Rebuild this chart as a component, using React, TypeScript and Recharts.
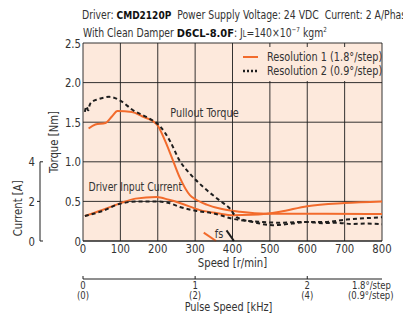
import { CartesianGrid, Legend, Line, LineChart, ReferenceDot, XAxis, YAxis } from 'recharts';

const ORANGE = '#f26b2c';
const DARK = '#1e1e1e';
const TEXT = '#333';
const PEACH = '#fde9dc';
const FONT = '"DejaVu Sans Condensed", "DejaVu Sans", sans-serif';
const SX = 0.9; // squeeze DejaVu Condensed towards the narrow Helvetica of the original

const W = 403;
const H = 325;
const MARGIN = { top: 43, right: 21, bottom: 0, left: 0 };
const SPEED_AXIS_H = 38;
const PULSE_AXIS_H = 46;
const PLOT_H = H - MARGIN.top - MARGIN.bottom - SPEED_AXIS_H - PULSE_AXIS_H;

// axis ids: recharts stacks same-side axes by id, so 'a_' sits next to the plot
const SPEED = 'a_speed';
const PULSE = 'b_pulse';
const TORQUE = 'a_torque';
const CUR = 'b_cur';

// axes
const speedTicks = [0, 100, 200, 300, 400, 500, 600, 700, 800];
const torqueTicks = [0, 0.5, 1.0, 1.5, 2.0, 2.5];
const currentTicks = [0, 2, 4];
const CURRENT_MAX = 10; // 4 A lines up with 1.0 Nm
const PULSE_MAX = 800 / 300; // 1.8°/step: 1 kHz = 300 r/min
const pulseTicks = [0, 1, 2, PULSE_MAX];
const pulseTop = ['0', '1', '2', '1.8°/step'];
const pulseBottom = ['(0)', '(2)', '(4)', '(0.9°/step)'];

// Resolution 1 (1.8°/step)
const res1TorqueSpeed = [15, 33, 60, 78, 92, 131, 158, 198, 220, 238, 259, 286, 300, 331, 366, 420, 490, 560, 650, 800];
const res1Torque = [1.42, 1.47, 1.49, 1.575, 1.64, 1.63, 1.575, 1.47, 1.26, 1.05, 0.8, 0.58, 0.53, 0.46, 0.41, 0.37, 0.345, 0.345, 0.345, 0.34];
const res1CurrentSpeed = [5, 50, 99, 140, 197, 230, 259, 313, 360, 401, 450, 490, 527, 600, 700, 800];
const res1Current = [1.26, 1.55, 1.9, 2.14, 2.22, 2.08, 1.92, 1.56, 1.4, 1.3, 1.32, 1.38, 1.48, 1.76, 1.92, 2.0];

// Resolution 2 (0.9°/step)
const res2TorqueSpeed = [5, 9, 14, 18, 25, 40, 55, 70, 104, 131, 176, 206, 233, 259, 286, 322, 366, 393, 411, 455, 508, 560, 600, 640, 680, 720, 760, 800];
const res2Torque = [1.63, 1.7, 1.65, 1.72, 1.76, 1.79, 1.81, 1.82, 1.76, 1.66, 1.55, 1.45, 1.26, 1.01, 0.85, 0.68, 0.51, 0.41, 0.3, 0.24, 0.2, 0.22, 0.24, 0.225, 0.23, 0.215, 0.22, 0.21];
const res2CurrentSpeed = [5, 50, 99, 150, 197, 230, 259, 304, 348, 401, 481, 527, 580, 642, 705, 800];
const res2Current = [1.26, 1.5, 1.88, 2.0, 2.0, 1.92, 1.72, 1.52, 1.4, 1.12, 0.96, 0.92, 0.96, 0.96, 1.08, 1.2];

// starting frequency (fs) markers
const fs1Speed = [323, 356];
const fs1Torque = [0.105, 0];
const fs2Speed = [384, 404];
const fs2Torque = [0.135, 0];

const legendNames = ['Resolution 1 (1.8°/step)', 'Resolution 2 (0.9°/step)'];

const zip = (xs: number[], ys: number[]) => xs.map((x, i) => ({ speed: x, v: ys[i] }));
// empty rows so the pulse axis has a domain of its own
const pulseRows = pulseTicks.map((k) => ({ kHz: k, v: null }));

function NText({ x, y, children, anchor = 'middle', size = 12, rotate = 0, baseline }: any) {
  return (
    <text
      transform={`translate(${x},${y})${rotate ? ` rotate(${rotate})` : ''} scale(${SX},1)`}
      textAnchor={anchor}
      dominantBaseline={baseline}
      fontSize={size}
      fontFamily={FONT}
      fill={TEXT}
    >
      {children}
    </text>
  );
}

function SpeedTick({ x, y, payload }: any) {
  return <NText x={x} y={y + 12} size={12.5}>{payload.value}</NText>;
}

function TorqueTick({ x, y, payload }: any) {
  const v = payload.value;
  return (
    <NText x={x} y={y + 4.5} anchor="end" size={12.5}>
      {v === 0 ? '0' : v.toFixed(1)}
    </NText>
  );
}

function CurrentTick({ x, y, payload }: any) {
  const v = payload.value;
  const step = (PLOT_H * 2) / CURRENT_MAX;
  return (
    <g>
      {v > 0 && <line x1={x} x2={x} y1={y} y2={y + step} stroke={DARK} />}
      {v === 2 ? <line x1={x - 3} x2={x} y1={y} y2={y} stroke={DARK} /> : <line x1={x} x2={x + 3} y1={y} y2={y} stroke={DARK} />}
      <NText x={x - 5} y={y + 4.5} anchor="end" size={12.5}>
        {v}
      </NText>
    </g>
  );
}

function PulseTick({ x, y, payload }: any) {
  const i = pulseTicks.indexOf(payload.value);
  const isEnd = i === pulseTicks.length - 1;
  return (
    <g>
      {!isEnd && <line x1={x} x2={x} y1={y - 3} y2={y} stroke={DARK} />}
      <NText x={isEnd ? x - 30 : x} y={y + 10} anchor={isEnd ? 'start' : 'middle'} size={10.5}>
        {pulseTop[i]}
      </NText>
      <NText x={isEnd ? x - 34 : x} y={y + 20} anchor={isEnd ? 'start' : 'middle'} size={10.5}>
        {pulseBottom[i]}
      </NText>
    </g>
  );
}

function LegendBox({ payload }: any) {
  const items = (payload || []).filter((e: any) => legendNames.includes(e.value));
  return (
    <div style={{ background: PEACH, padding: '3px 0 3px 2px', fontFamily: FONT, fontSize: 12, color: TEXT, lineHeight: '14px', whiteSpace: 'nowrap' }}>
      {items.map((entry: any) => {
        const dotted = entry.value === legendNames[1];
        return (
          <div key={entry.value} style={{ display: 'flex', alignItems: 'center', height: 14 }}>
            <svg width={25} height={14} style={{ flex: 'none' }}>
              <line x1={1} x2={16} y1={7} y2={7} stroke={dotted ? DARK : ORANGE} strokeWidth={dotted ? 2.5 : 2} strokeDasharray={dotted ? '2 2' : undefined} />
            </svg>
            <span style={{ display: 'inline-block', transform: `scaleX(${SX})`, transformOrigin: 'left center' }}>{entry.value}</span>
          </div>
        );
      })}
    </div>
  );
}

const headStyle = {
  position: 'absolute' as const,
  whiteSpace: 'nowrap' as const,
  fontFamily: FONT,
  fontSize: 11.5,
  color: TEXT,
  lineHeight: '14px',
  transform: `scaleX(${SX})`,
  transformOrigin: 'left top',
};

const lineProps = { dot: false, activeDot: false, isAnimationActive: false, strokeWidth: 2 } as const;

export default function App() {
  return (
    <div style={{ position: 'absolute', left: 0, top: 0, width: W, height: H, background: '#fff', overflow: 'hidden' }}>
      <div style={{ ...headStyle, left: 82, top: 8 }}>
        Driver: <b style={{ fontFamily: '"DejaVu Sans", sans-serif', fontSize: 10, color: '#111' }}>CMD2120P</b>&nbsp; Power Supply Voltage: 24 VDC&nbsp; Current: 2 A/Phase
      </div>
      <div style={{ ...headStyle, left: 83, top: 23 }}>
        With Clean Damper <b style={{ fontFamily: '"DejaVu Sans", sans-serif', fontSize: 11, color: '#111' }}>D6CL-8.0F</b>: J<span style={{ fontSize: 8 }}>L</span>=140×10<sup style={{ fontSize: 7 }}>−7</sup> kgm<sup style={{ fontSize: 7 }}>2</sup>
      </div>
      <LineChart width={W} height={H} margin={MARGIN} style={{ position: 'absolute', left: 0, top: 0 }}>
        <CartesianGrid xAxisId={SPEED} yAxisId={TORQUE} fill={PEACH} fillOpacity={1} stroke={DARK} strokeOpacity={0.9} />
        <XAxis
          xAxisId={SPEED}
          type="number"
          dataKey="speed"
          domain={[0, 800]}
          ticks={speedTicks}
          interval={0}
          height={SPEED_AXIS_H}
          tickSize={0}
          tickMargin={0}
          axisLine={{ stroke: DARK }}
          tickLine={false}
          tick={<SpeedTick />}
          label={({ viewBox }: any) => (
            <NText x={viewBox.x + viewBox.width / 2} y={viewBox.y + 26} size={12.5}>
              Speed [r/min]
            </NText>
          )}
        />
        <XAxis
          xAxisId={PULSE}
          type="number"
          dataKey="kHz"
          domain={[0, PULSE_MAX]}
          allowDataOverflow
          ticks={pulseTicks}
          interval={0}
          height={PULSE_AXIS_H}
          tickSize={0}
          tickMargin={0}
          axisLine={{ stroke: DARK }}
          tickLine={false}
          tick={<PulseTick />}
          label={({ viewBox }: any) => (
            <NText x={viewBox.x + viewBox.width / 2 - 4} y={viewBox.y + 32} size={12}>
              Pulse Speed [kHz]
            </NText>
          )}
        />
        <YAxis
          yAxisId={TORQUE}
          type="number"
          domain={[0, 2.5]}
          ticks={torqueTicks}
          interval={0}
          width={43}
          tickSize={0}
          tickMargin={2}
          axisLine={false}
          tickLine={false}
          tick={<TorqueTick />}
          label={({ viewBox }: any) => (
            <NText x={viewBox.x + 18} y={viewBox.y + viewBox.height / 2} rotate={-90} size={12.5}>
              Torque [Nm]
            </NText>
          )}
        />
        <YAxis
          yAxisId={CUR}
          type="number"
          domain={[0, CURRENT_MAX]}
          ticks={currentTicks}
          interval={0}
          width={40}
          tickSize={0}
          tickMargin={0}
          axisLine={false}
          tickLine={false}
          tick={<CurrentTick />}
          label={({ viewBox }: any) => (
            <NText x={viewBox.x + 22} y={viewBox.y + viewBox.height * 0.835} rotate={-90} size={12.5}>
              Current [A]
            </NText>
          )}
        />
        <Legend
          layout="vertical"
          align="center"
          verticalAlign="middle"
          content={<LegendBox />}
          wrapperStyle={{ position: 'absolute', left: 240, top: 47, width: 141 }}
        />
        <Line xAxisId={PULSE} yAxisId={TORQUE} data={pulseRows} dataKey="v" name="pulse" legendType="none" stroke="none" {...lineProps} />
        <Line xAxisId={SPEED} yAxisId={TORQUE} data={zip(res1TorqueSpeed, res1Torque)} dataKey="v" name={legendNames[0]} type="monotone" stroke={ORANGE} {...lineProps} />
        <Line xAxisId={SPEED} yAxisId={CUR} data={zip(res1CurrentSpeed, res1Current)} dataKey="v" name="res1 current" legendType="none" type="monotone" stroke={ORANGE} {...lineProps} />
        <Line xAxisId={SPEED} yAxisId={TORQUE} data={zip(fs1Speed, fs1Torque)} dataKey="v" name="fs1" legendType="none" type="linear" stroke={ORANGE} {...lineProps} />
        <Line xAxisId={SPEED} yAxisId={TORQUE} data={zip(res2TorqueSpeed, res2Torque)} dataKey="v" name={legendNames[1]} type="monotone" stroke={DARK} strokeDasharray="4 3" {...lineProps} />
        <Line xAxisId={SPEED} yAxisId={CUR} data={zip(res2CurrentSpeed, res2Current)} dataKey="v" name="res2 current" legendType="none" type="monotone" stroke={DARK} strokeDasharray="4 3" {...lineProps} />
        <Line xAxisId={SPEED} yAxisId={TORQUE} data={zip(fs2Speed, fs2Torque)} dataKey="v" name="fs2" legendType="none" type="linear" stroke={DARK} {...lineProps} />
        <ReferenceDot xAxisId={SPEED} yAxisId={TORQUE} x={325} y={1.62} shape={(p: any) => <NText x={p.cx} y={p.cy + 4} size={12}>Pullout Torque</NText>} />
        <ReferenceDot xAxisId={SPEED} yAxisId={TORQUE} x={140} y={0.68} shape={(p: any) => <NText x={p.cx} y={p.cy + 4} size={11.5}>Driver Input Current</NText>} />
        <ReferenceDot xAxisId={SPEED} yAxisId={TORQUE} x={364} y={0.09} shape={(p: any) => <NText x={p.cx} y={p.cy + 4} size={12}>fs</NText>} />
      </LineChart>
    </div>
  );
}
